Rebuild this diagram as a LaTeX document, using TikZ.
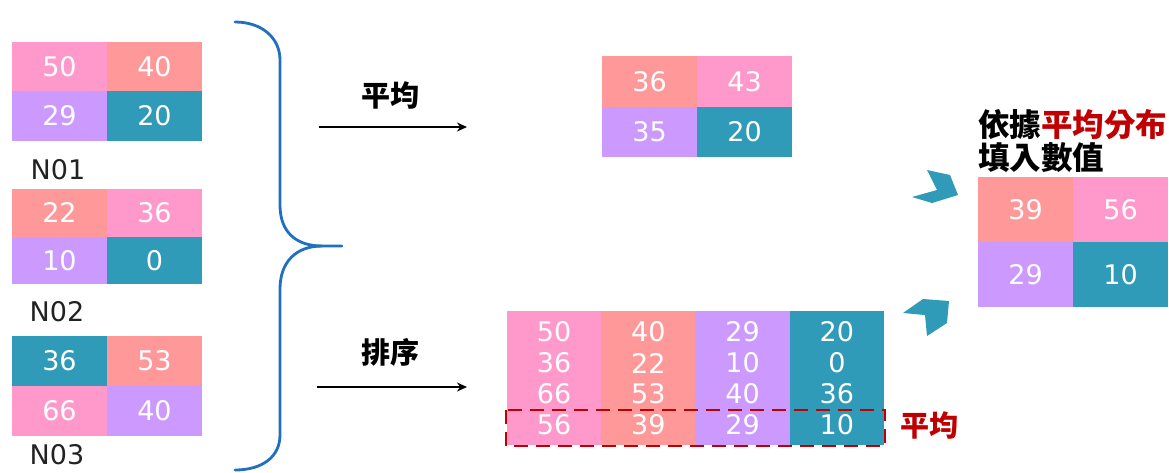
\documentclass[tikz,border=0pt]{standalone}
\usepackage{fontspec}
\usetikzlibrary{arrows.meta}
\newfontfamily\numfont{DejaVu Sans}
\newfontfamily\cjk{Noto Sans CJK TC}
\definecolor{pinkc}{HTML}{FF99CC}
\definecolor{salmonc}{HTML}{FF9999}
\definecolor{purplec}{HTML}{CC99FF}
\definecolor{tealc}{HTML}{2F9BB8}
\definecolor{bracec}{HTML}{1F70C1}
\definecolor{redc}{HTML}{C00000}
\definecolor{labelc}{HTML}{222222}
\tikzset{
  cell/.style={inner sep=0pt, minimum width=95pt, text=white, font=\numfont\fontsize{27}{30}\selectfont},
  numtxt/.style={inner sep=0pt, text=white, font=\numfont\fontsize{27}{30}\selectfont},
  colbox/.style={inner sep=0pt, minimum width=94.3pt, minimum height=134pt},
  nlabel/.style={inner sep=0pt, text=labelc, font=\numfont\fontsize{27}{30}\selectfont},
  cjklabel/.style={inner sep=0pt, text=black, font=\cjk\bfseries\fontsize{29}{32}\selectfont},
  cjkright/.style={inner sep=0pt, anchor=west, text=black, font=\cjk\bfseries\fontsize{31.5}{34}\selectfont},
  arr/.style={line width=2pt, -{Stealth[length=10pt,width=9pt]}},
  chev/.style={fill=tealc, draw=none},
  dashbox/.style={draw=redc, line width=2.8pt, dash pattern=on 14pt off 8pt},
}
\begin{document}
\begin{tikzpicture}[x=1pt,y=-1pt]
\useasboundingbox (0,0) rectangle (1169,472);
% N01
\node[cell, fill=pinkc, minimum height=49.5pt] (a11) at (59.5,66.5) {50};
\node[cell, fill=salmonc, minimum height=49.5pt] (a12) at (154.5,66.5) {40};
\node[cell, fill=purplec, minimum height=49.5pt] (a21) at (59.5,116) {29};
\node[cell, fill=tealc, minimum height=49.5pt] (a22) at (154.5,116) {20};
\node[nlabel] (n01) at (58,170) {N01};
% N02
\node[cell, fill=salmonc, minimum height=47.5pt] (b11) at (59.5,212.75) {22};
\node[cell, fill=pinkc, minimum height=47.5pt] (b12) at (154.5,212.75) {36};
\node[cell, fill=purplec, minimum height=47.5pt] (b21) at (59.5,260.25) {10};
\node[cell, fill=tealc, minimum height=47.5pt] (b22) at (154.5,260.25) {0};
\node[nlabel] (n02) at (57,312) {N02};
% N03
\node[cell, fill=tealc, minimum height=50pt] (c11) at (59.5,361) {36};
\node[cell, fill=salmonc, minimum height=50pt] (c12) at (154.5,361) {53};
\node[cell, fill=pinkc, minimum height=50pt] (c21) at (59.5,411) {66};
\node[cell, fill=purplec, minimum height=50pt] (c22) at (154.5,411) {40};
\node[nlabel] (n03) at (57,455) {N03};
% brace
\draw[bracec, line width=2.8pt, line cap=round]
  (235,22) .. controls (262,22) and (280,38) .. (280,60) -- (280,205)
  .. controls (280,232) and (296,246) .. (322,246) -- (342,246);
\draw[bracec, line width=2.8pt, line cap=round]
  (322,246) .. controls (296,246) and (280,262) .. (280,289) -- (280,435)
  .. controls (280,457) and (262,470) .. (235,470);
% arrows
\coordinate (p1s) at (319,127);
\coordinate (p1e) at (467,127);
\coordinate (p2s) at (317,387);
\coordinate (p2e) at (467,387);
\draw[arr] (p1s) -- (p1e);
\draw[arr] (p2s) -- (p2e);
\node[cjklabel] (lavg) at (390,95) {平均};
\node[cjklabel] (lsort) at (390,352) {排序};
% average grid
\node[cell, fill=salmonc, minimum height=50.5pt] (d11) at (649.5,81.25) {36};
\node[cell, fill=pinkc, minimum height=50.5pt] (d12) at (744.5,81.25) {43};
\node[cell, fill=purplec, minimum height=50.5pt] (d21) at (649.5,131.75) {35};
\node[cell, fill=tealc, minimum height=50.5pt] (d22) at (744.5,131.75) {20};
% sorted table
\node[colbox, fill=pinkc] (col1) at (554.1,378) {};
\node[colbox, fill=salmonc] (col2) at (648.4,378) {};
\node[colbox, fill=purplec] (col3) at (742.6,378) {};
\node[colbox, fill=tealc] (col4) at (836.9,378) {};
\node[numtxt] (e11) at (554.1,332) {50};
\node[numtxt] (e12) at (648.4,332) {40};
\node[numtxt] (e13) at (742.6,332) {29};
\node[numtxt] (e14) at (836.9,332) {20};
\node[numtxt] (e21) at (554.1,363) {36};
\node[numtxt] (e22) at (648.4,363) {22};
\node[numtxt] (e23) at (742.6,363) {10};
\node[numtxt] (e24) at (836.9,363) {0};
\node[numtxt] (e31) at (554.1,394) {66};
\node[numtxt] (e32) at (648.4,394) {53};
\node[numtxt] (e33) at (742.6,394) {40};
\node[numtxt] (e34) at (836.9,394) {36};
\node[numtxt] (e41) at (554.1,425) {56};
\node[numtxt] (e42) at (648.4,425) {39};
\node[numtxt] (e43) at (742.6,425) {29};
\node[numtxt] (e44) at (836.9,425) {10};
\draw[dashbox] (506,410) rectangle (885,446);
\node[cjklabel, text=redc] (lavg2) at (929,425) {平均};
% chevrons
\fill[chev] (912,197) -- (937,190) -- (927,170) -- (950,175) -- (958,195) -- (932,203) -- cycle;
\fill[chev] (903,313) -- (923,299) -- (949,301) -- (947,323) -- (927,336) -- (925,315) -- cycle;
% result
\node[cjkright] (t1) at (978,125) {依據\textcolor{redc}{平均分布}};
\node[cjkright] (t2) at (978,158) {填入數值};
\node[cell, fill=salmonc, minimum height=65pt] (f11) at (1025.5,209.5) {39};
\node[cell, fill=pinkc, minimum height=65pt] (f12) at (1120.5,209.5) {56};
\node[cell, fill=purplec, minimum height=65pt] (f21) at (1025.5,274.5) {29};
\node[cell, fill=tealc, minimum height=65pt] (f22) at (1120.5,274.5) {10};
\end{tikzpicture}
\end{document}
